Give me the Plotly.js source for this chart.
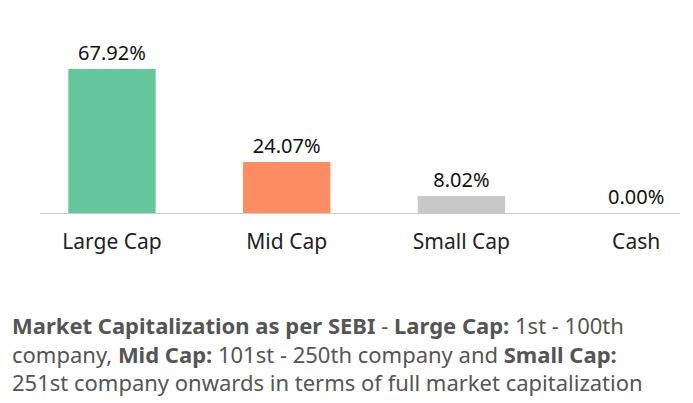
<!DOCTYPE html>
<html><head><script src="https://cdn.plot.ly/plotly-3.0.1.min.js"></script>
<style>body{margin:0}</style></head><body>
<div id="c" style="width:693px;height:403px"></div>
<script>
const categories=["Large Cap","Mid Cap","Small Cap","Cash"];
const values=[67.92,24.07,8.02,0.00];
const colors=["#66c69b","#fc8d62","#c8c8c8","#c8c8c8"];
const labels=values.map(v=>v.toFixed(2)+"%");
const xs=categories.map((c,i)=>i);
Plotly.newPlot("c",[{type:"bar",x:xs,y:values,width:0.5,marker:{color:colors},
 text:labels,textposition:"outside",cliponaxis:false,
 textfont:{family:"Noto Sans",size:20,color:"#111"},hoverinfo:"none"}],
{width:693,height:403,margin:{l:40,r:13,t:20,b:190},paper_bgcolor:"#fff",plot_bgcolor:"#fff",
 xaxis:{range:[-0.412,3.251],tickvals:xs,ticktext:categories,showline:true,linecolor:"#ccc",linewidth:1,
  showgrid:false,zeroline:false,ticks:"",ticklabelstandoff:10,tickfont:{family:"Noto Sans",size:21,color:"#222"}},
 yaxis:{range:[0,91],visible:false,showgrid:false,zeroline:false},
 showlegend:false,
 annotations:[{xref:"paper",yref:"paper",x:-0.047,y:-0.49,xanchor:"left",yanchor:"top",align:"left",showarrow:false,
  font:{family:"Noto Sans",size:22,color:"#555"},
  text:"<b>Market Capitalization as per SEBI</b> - <b>Large Cap:</b> 1st - 100th<br>company, <b>Mid Cap:</b> 101st - 250th company and <b>Small Cap:</b><br>251st company onwards in terms of full market capitalization"}]
},{staticPlot:true});
</script></body></html>
